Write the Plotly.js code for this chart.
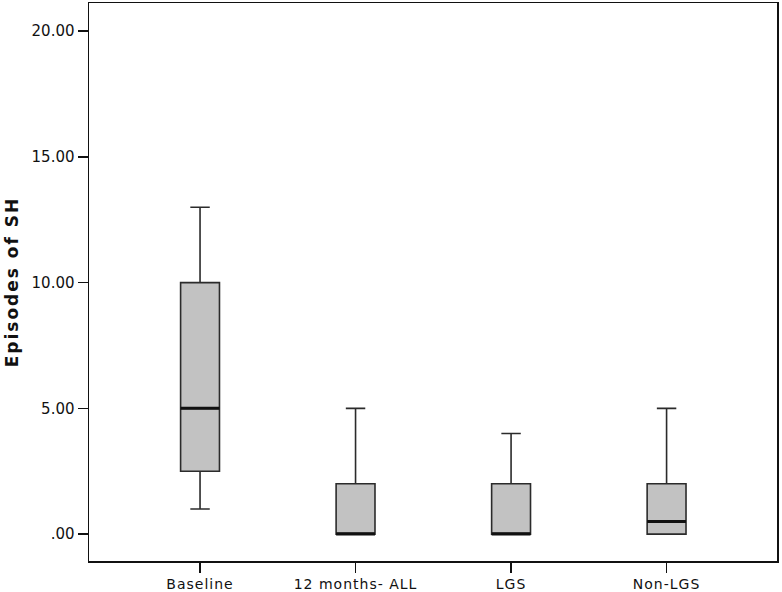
<!DOCTYPE html>
<html>
<head>
<meta charset="utf-8">
<script src="https://cdn.plot.ly/plotly-3.0.1.min.js"></script>
<style>
html,body{margin:0;padding:0;background:#fff;}
#chart{width:782px;height:592px;}
#chart .xtick text{letter-spacing:1px;}
#chart .ytitle{letter-spacing:2px;}
</style>
</head>
<body>
<div id="chart"></div>
<script>
var categories = ["Baseline", "12 months- ALL", "LGS", "Non-LGS"];
var lowerWhisker = [1, 0, 0, 0];
var q1 = [2.5, 0, 0, 0];
var median = [5, 0, 0, 0.5];
var q3 = [10, 2, 2, 2];
var upperWhisker = [13, 5, 4, 5];
var yTickVals = [0, 5, 10, 15, 20];
var yTickText = [".00", "5.00", "10.00", "15.00", "20.00"];

var xs = categories.map(function (c, i) { return i; });
var halfW = 0.125;

var boxTrace = {
  type: "box",
  x: xs,
  q1: q1,
  median: median,
  q3: q3,
  lowerfence: lowerWhisker,
  upperfence: upperWhisker,
  width: 2 * halfW,
  whiskerwidth: 0.5,
  fillcolor: "#c2c2c2",
  line: { color: "#2b2b2b", width: 1.6 },
  boxpoints: false,
  hoverinfo: "skip",
  showlegend: false
};

var mx = [], my = [];
xs.forEach(function (x, i) {
  mx.push(x - halfW, x + halfW, null);
  my.push(median[i], median[i], null);
});
var medianTrace = {
  type: "scatter",
  mode: "lines",
  x: mx,
  y: my,
  line: { color: "#111", width: 3 },
  hoverinfo: "skip",
  showlegend: false
};

var layout = {
  width: 782,
  height: 592,
  margin: { l: 89, r: 5, t: 3, b: 31 },
  paper_bgcolor: "#fff",
  plot_bgcolor: "#fff",
  font: { family: "DejaVu Sans, sans-serif", size: 14, color: "#111" },
  showlegend: false,
  xaxis: {
    range: [-0.714, 3.71],
    tickvals: xs,
    ticktext: categories,
    ticks: "outside",
    ticklen: 10,
    tickwidth: 1.5,
    tickcolor: "#111",
    showgrid: false,
    zeroline: false,
    showline: true,
    mirror: true,
    linecolor: "#111",
    linewidth: 1.5,
    tickfont: { size: 14 }
  },
  yaxis: {
    range: [-1.07, 21.12],
    tickvals: yTickVals,
    ticktext: yTickText,
    ticks: "outside",
    ticklen: 10,
    tickwidth: 1.5,
    tickcolor: "#111",
    showgrid: false,
    zeroline: false,
    showline: true,
    mirror: true,
    linecolor: "#111",
    linewidth: 1.5,
    tickfont: { size: 15 },
    title: { text: "<b>Episodes of SH</b>", font: { size: 17 }, standoff: 8 }
  }
};

Plotly.newPlot("chart", [boxTrace, medianTrace], layout, { displayModeBar: false, staticPlot: true });
</script>
</body>
</html>
